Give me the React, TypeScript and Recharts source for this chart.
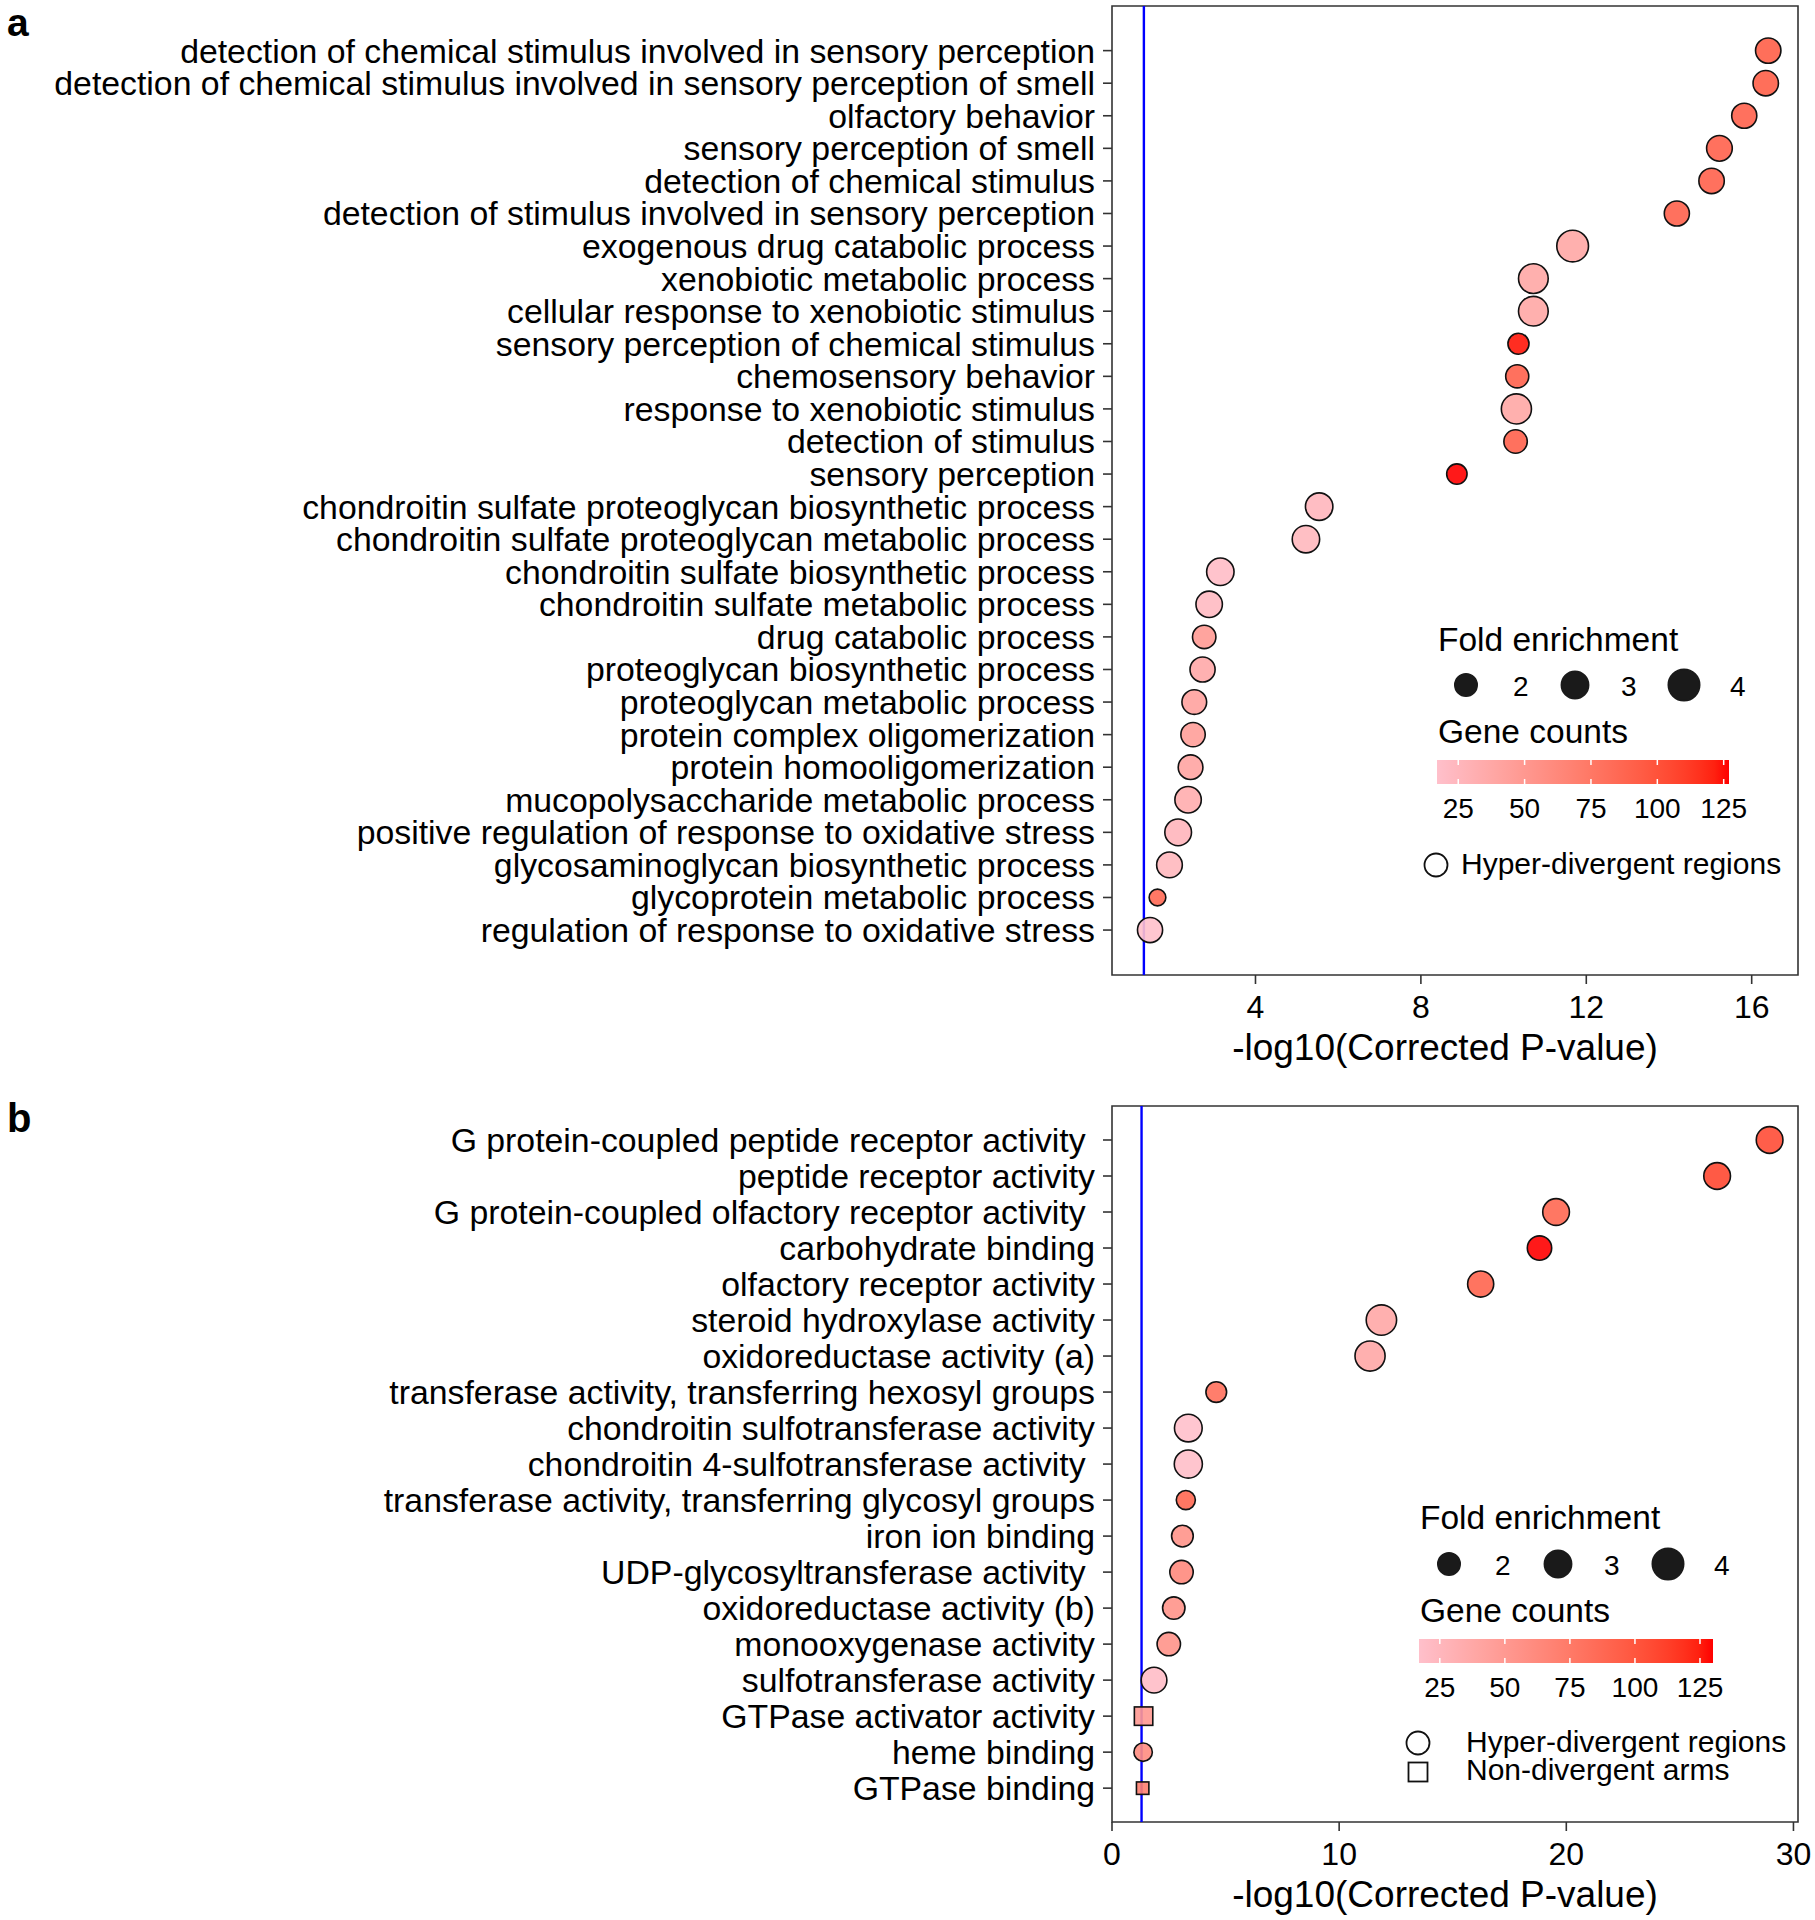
import React from 'react'
import {
  ScatterChart,
  Scatter,
  XAxis,
  YAxis,
  ZAxis,
  ReferenceLine,
  ReferenceArea,
} from 'recharts'

const FONT = '"Liberation Sans", Arial, Helvetica, sans-serif'

// ---- panel a: biological process terms ----
const termsA = [
  'detection of chemical stimulus involved in sensory perception',
  'detection of chemical stimulus involved in sensory perception of smell',
  'olfactory behavior',
  'sensory perception of smell',
  'detection of chemical stimulus',
  'detection of stimulus involved in sensory perception',
  'exogenous drug catabolic process',
  'xenobiotic metabolic process',
  'cellular response to xenobiotic stimulus',
  'sensory perception of chemical stimulus',
  'chemosensory behavior',
  'response to xenobiotic stimulus',
  'detection of stimulus',
  'sensory perception',
  'chondroitin sulfate proteoglycan biosynthetic process',
  'chondroitin sulfate proteoglycan metabolic process',
  'chondroitin sulfate biosynthetic process',
  'chondroitin sulfate metabolic process',
  'drug catabolic process',
  'proteoglycan biosynthetic process',
  'proteoglycan metabolic process',
  'protein complex oligomerization',
  'protein homooligomerization',
  'mucopolysaccharide metabolic process',
  'positive regulation of response to oxidative stress',
  'glycosaminoglycan biosynthetic process',
  'glycoprotein metabolic process',
  'regulation of response to oxidative stress',
]
const pvalA = [
  16.4, 16.34, 15.82, 15.22, 15.03, 14.19, 11.67, 10.72, 10.72, 10.36, 10.33, 10.31, 10.29, 8.87,
  5.54, 5.22, 3.15, 2.88, 2.76, 2.72, 2.52, 2.49, 2.43, 2.37, 2.13, 1.92, 1.63, 1.45,
]
const foldA = [
  2.59, 2.59, 2.53, 2.65, 2.59, 2.53, 4.08, 3.57, 3.57, 1.76, 2.13, 3.67, 2.19, 1.64,
  3.03, 3.03, 3.03, 2.81, 2.19, 2.53, 2.45, 2.38, 2.45, 2.81, 2.87, 2.65, 1.08, 2.53,
]
const genesA = [
  92, 92, 90, 90, 90, 90, 38, 38, 38, 124, 90, 38, 90, 127,
  25, 24, 20, 22, 48, 36, 42, 45, 40, 33, 26, 24, 85, 17,
]
const xTicksA = [4, 8, 12, 16]

// ---- panel b: molecular function terms ----
const termsB = [
  'G protein-coupled peptide receptor activity ',
  'peptide receptor activity',
  'G protein-coupled olfactory receptor activity ',
  'carbohydrate binding',
  'olfactory receptor activity',
  'steroid hydroxylase activity',
  'oxidoreductase activity (a)',
  'transferase activity, transferring hexosyl groups',
  'chondroitin sulfotransferase activity',
  'chondroitin 4-sulfotransferase activity ',
  'transferase activity, transferring glycosyl groups',
  'iron ion binding',
  'UDP-glycosyltransferase activity ',
  'oxidoreductase activity (b)',
  'monooxygenase activity',
  'sulfotransferase activity',
  'GTPase activator activity',
  'heme binding',
  'GTPase binding',
]
const pvalB = [
  28.95, 26.64, 19.55, 18.82, 16.23, 11.86, 11.36, 4.59, 3.36, 3.36, 3.25, 3.1, 3.06, 2.72, 2.5,
  1.85, 1.39, 1.37, 1.35,
]
const foldB = [
  2.87, 2.87, 2.87, 2.38, 2.74, 3.74, 3.67, 1.7, 3.1, 3.19, 1.43, 1.87, 2.19, 2.0, 2.19, 2.65,
  1.71, 1.33, 0.74,
]
const genesB = [105, 108, 88, 130, 90, 38, 38, 82, 17, 18, 88, 55, 62, 55, 55, 20, 50, 60, 70]
const regionB = [
  'hyper', 'hyper', 'hyper', 'hyper', 'hyper', 'hyper', 'hyper', 'hyper', 'hyper', 'hyper',
  'hyper', 'hyper', 'hyper', 'hyper', 'hyper', 'hyper', 'arm', 'hyper', 'arm',
]
const xTicksB = [0, 10, 20, 30]

const foldLegend = [2, 3, 4]
const geneLegend = [25, 50, 75, 100, 125]
const CUTOFF = -Math.log10(0.05)

type Row = { row: number; term: string; p: number; fold: number; genes: number; region: string }

const rowsA: Row[] = termsA.map((term, i) => ({
  row: i + 1, term, p: pvalA[i], fold: foldA[i], genes: genesA[i], region: 'hyper',
}))
const rowsB: Row[] = termsB.map((term, i) => ({
  row: i + 1, term, p: pvalB[i], fold: foldB[i], genes: genesB[i], region: regionB[i],
}))

// point area grows linearly with fold enrichment (like scale_size)
const FOLD_DOMAIN: [number, number] = [0, 5]
const areaFor = (fe: number) => (Math.PI / 4) * (502 + 242 * (fe - 2))
const AREA_RANGE: [number, number] = [areaFor(FOLD_DOMAIN[0]), areaFor(FOLD_DOMAIN[1])]

// pink -> red, interpolated in Lab
const WHITE = [0.95047, 1, 1.08883]
const toLin = (c: number) => {
  const v = c / 255
  return v <= 0.04045 ? v / 12.92 : Math.pow((v + 0.055) / 1.055, 2.4)
}
const fromLin = (v: number) => {
  const s = v <= 0.0031308 ? 12.92 * v : 1.055 * Math.pow(v, 1 / 2.4) - 0.055
  return Math.round(Math.min(1, Math.max(0, s)) * 255)
}
const fLab = (t: number) => (t > 216 / 24389 ? Math.cbrt(t) : ((24389 / 27) * t + 16) / 116)
const fLabInv = (t: number) => (t * t * t > 216 / 24389 ? t * t * t : (116 * t - 16) / (24389 / 27))
function rgbToLab([r, g, b]: number[]) {
  const R = toLin(r), G = toLin(g), B = toLin(b)
  const fx = fLab((0.4124 * R + 0.3576 * G + 0.1805 * B) / WHITE[0])
  const fy = fLab((0.2126 * R + 0.7152 * G + 0.0722 * B) / WHITE[1])
  const fz = fLab((0.0193 * R + 0.1192 * G + 0.9505 * B) / WHITE[2])
  return [116 * fy - 16, 500 * (fx - fy), 200 * (fy - fz)]
}
function labToCss([L, a, b]: number[]) {
  const fy = (L + 16) / 116
  const X = fLabInv(fy + a / 500) * WHITE[0]
  const Y = fLabInv(fy) * WHITE[1]
  const Z = fLabInv(fy - b / 200) * WHITE[2]
  const R = 3.2406 * X - 1.5372 * Y - 0.4986 * Z
  const G = -0.9689 * X + 1.8758 * Y + 0.0415 * Z
  const B = 0.0557 * X - 0.204 * Y + 1.057 * Z
  return `rgb(${fromLin(R)},${fromLin(G)},${fromLin(B)})`
}
const LOW = rgbToLab([255, 192, 203])
const HIGH = rgbToLab([255, 0, 0])
function geneColour(v: number, [lo, hi]: number[]) {
  const t = Math.min(1, Math.max(0, (v - lo) / (hi - lo)))
  return labToCss(LOW.map((c, i) => c + (HIGH[i] - c) * t))
}
const extent = (vals: number[]) => [Math.min(...vals), Math.max(...vals)]

function TermTick(props: any) {
  const { x, y, payload, terms } = props
  return (
    <text
      x={x}
      y={y}
      dy="0.355em"
      textAnchor="end"
      fontSize={33.8}
      fontFamily={FONT}
      fill="#000"
      style={{ whiteSpace: 'pre' }}
    >
      {terms[payload.value - 1]}
    </text>
  )
}

function Panel({
  rows, top, height, marginTop, axisHeight, titleOffset, xDomain, xTicks, yDomain,
}: {
  rows: Row[]; top: number; height: number; marginTop: number; axisHeight: number
  titleOffset: number; xDomain: [number, number]; xTicks: number[]; yDomain: [number, number]
}) {
  const geneDomain = extent(rows.map((r) => r.genes))
  const terms = rows.map((r) => r.term)
  const circles = rows.filter((r) => r.region === 'hyper')
  const squares = rows.filter((r) => r.region === 'arm')

  const mark = (kind: string) => (props: any) => {
    const { cx, cy, payload } = props
    const size = props.size ?? Math.PI * (props.width / 2) ** 2
    const fill = geneColour(payload.genes, geneDomain)
    if (kind === 'square') {
      const s = Math.sqrt(size)
      return (
        <rect x={cx - s / 2} y={cy - s / 2} width={s} height={s} fill={fill} fillOpacity={0.9} stroke="#111" strokeWidth={1.6} />
      )
    }
    return <circle cx={cx} cy={cy} r={Math.sqrt(size / Math.PI)} fill={fill} fillOpacity={0.9} stroke="#111" strokeWidth={1.6} />
  }

  return (
    <div style={{ position: 'absolute', left: 0, top }}>
      <ScatterChart width={1815} height={height} margin={{ top: marginTop, right: 17, bottom: 0, left: 12 }}>
        <XAxis
          type="number"
          dataKey="p"
          domain={xDomain}
          ticks={xTicks}
          allowDataOverflow
          height={axisHeight}
          axisLine={false}
          tickSize={9}
          tickMargin={11}
          tickLine={{ stroke: '#333', strokeWidth: 1.6 }}
          tick={{ fill: '#000', fontSize: 32, fontFamily: FONT }}
          label={{
            value: '-log10(Corrected P-value)',
            position: 'insideBottom',
            offset: titleOffset,
            dx: -10,
            fontSize: 37,
            fill: '#000',
            fontFamily: FONT,
          }}
        />
        <YAxis
          type="number"
          dataKey="row"
          domain={yDomain}
          reversed
          ticks={rows.map((r) => r.row)}
          interval={0}
          allowDataOverflow
          width={1100}
          axisLine={false}
          tickSize={9}
          tickMargin={8}
          tickLine={{ stroke: '#333', strokeWidth: 1.6 }}
          tick={(p: any) => <TermTick {...p} terms={terms} />}
        />
        <ZAxis type="number" dataKey="fold" domain={FOLD_DOMAIN} range={AREA_RANGE} />
        <ReferenceArea
          x1={xDomain[0]}
          x2={xDomain[1]}
          y1={yDomain[0]}
          y2={yDomain[1]}
          ifOverflow="visible"
          fill="none"
          stroke="#333"
          strokeWidth={1.6}
        />
        <ReferenceLine x={CUTOFF} stroke="#0000FF" strokeWidth={2.4} />
        <Scatter data={circles} shape={mark('circle')} isAnimationActive={false} />
        {squares.length > 0 && <Scatter data={squares} shape={mark('square')} isAnimationActive={false} />}
      </ScatterChart>
    </div>
  )
}

type LegendLayout = {
  id: string; left: number; foldTitle: number; sizeCy: number; sizeCx: number[]; sizeLabelX: number[]
  sizeLabel: number; geneTitle: number; bar: { x: number; y: number; w: number; h: number }; barLabel: number
  keys: { shape: string; label: string; cx: number; cy: number; tx: number; base: number }[]
}

function PanelLegend({ rows, lay }: { rows: Row[]; lay: LegendLayout }) {
  const [lo, hi] = extent(rows.map((r) => r.genes))
  const stops = Array.from({ length: 21 }, (_, i) => i / 20)
  const gx = (v: number) => lay.bar.x + ((v - lo) / (hi - lo)) * lay.bar.w
  return (
    <g fontFamily={FONT} fill="#000">
      <defs>
        <linearGradient id={lay.id} x1="0" y1="0" x2="1" y2="0">
          {stops.map((t) => (
            <stop key={t} offset={t} stopColor={geneColour(lo + t * (hi - lo), [lo, hi])} />
          ))}
        </linearGradient>
      </defs>
      <text x={lay.left} y={lay.foldTitle} fontSize={33.5}>Fold enrichment</text>
      {foldLegend.map((fe, i) => (
        <g key={fe}>
          <circle cx={lay.sizeCx[i]} cy={lay.sizeCy} r={Math.sqrt(areaFor(fe) / Math.PI)} fill="#1a1a1a" stroke="#1a1a1a" strokeWidth={1.6} />
          <text x={lay.sizeLabelX[i]} y={lay.sizeLabel} fontSize={28}>{fe}</text>
        </g>
      ))}
      <text x={lay.left} y={lay.geneTitle} fontSize={33.5}>Gene counts</text>
      <rect x={lay.bar.x} y={lay.bar.y} width={lay.bar.w} height={lay.bar.h} fill={`url(#${lay.id})`} />
      {geneLegend.map((v) => (
        <g key={v}>
          <line x1={gx(v)} x2={gx(v)} y1={lay.bar.y} y2={lay.bar.y + 5} stroke="#fff" strokeWidth={1.5} />
          <line x1={gx(v)} x2={gx(v)} y1={lay.bar.y + lay.bar.h - 5} y2={lay.bar.y + lay.bar.h} stroke="#fff" strokeWidth={1.5} />
          <text x={gx(v)} y={lay.barLabel} fontSize={28} textAnchor="middle">{v}</text>
        </g>
      ))}
      {lay.keys.map((k) => (
        <g key={k.label}>
          {k.shape === 'square' ? (
            <rect x={k.cx - 9.5} y={k.cy - 9.5} width={19} height={19} fill="none" stroke="#111" strokeWidth={1.8} />
          ) : (
            <circle cx={k.cx} cy={k.cy} r={11.5} fill="none" stroke="#111" strokeWidth={1.8} />
          )}
          <text x={k.tx} y={k.base} fontSize={30}>{k.label}</text>
        </g>
      ))}
    </g>
  )
}

const legendA: LegendLayout = {
  id: 'geneGradA', left: 1438, foldTitle: 651, sizeCy: 685, sizeCx: [1466, 1575, 1684],
  sizeLabelX: [1513, 1621, 1730], sizeLabel: 696, geneTitle: 743,
  bar: { x: 1437, y: 760, w: 292, h: 24 }, barLabel: 818,
  keys: [{ shape: 'circle', label: 'Hyper-divergent regions', cx: 1436, cy: 865, tx: 1461, base: 874 }],
}
const legendB: LegendLayout = {
  id: 'geneGradB', left: 1420, foldTitle: 1529, sizeCy: 1564, sizeCx: [1449, 1558, 1668],
  sizeLabelX: [1495, 1604, 1714], sizeLabel: 1575, geneTitle: 1622,
  bar: { x: 1419, y: 1639, w: 294, h: 24 }, barLabel: 1697,
  keys: [
    { shape: 'circle', label: 'Hyper-divergent regions', cx: 1418, cy: 1743, tx: 1466, base: 1752 },
    { shape: 'square', label: 'Non-divergent arms', cx: 1418, cy: 1772, tx: 1466, base: 1780 },
  ],
}

export default function App() {
  return (
    <div style={{ position: 'absolute', left: 0, top: 0, width: 1815, height: 1920, background: '#fff', fontFamily: FONT }}>
      <Panel
        rows={rowsA}
        top={0}
        height={1090}
        marginTop={6}
        axisHeight={115}
        titleOffset={30}
        xDomain={[0.53, 17.12]}
        xTicks={xTicksA}
        yDomain={[-0.37, 29.38]}
      />
      <Panel
        rows={rowsB}
        top={1090}
        height={830}
        marginTop={16}
        axisHeight={98}
        titleOffset={13}
        xDomain={[0, 30.2]}
        xTicks={xTicksB}
        yDomain={[0.056, 19.94]}
      />
      <svg width={1815} height={1920} style={{ position: 'absolute', left: 0, top: 0, pointerEvents: 'none' }}>
        <text x={7} y={36} fontSize={39} fontWeight="bold" fontFamily={FONT}>a</text>
        <text x={7} y={1132} fontSize={40} fontWeight="bold" fontFamily={FONT}>b</text>
        <PanelLegend rows={rowsA} lay={legendA} />
        <PanelLegend rows={rowsB} lay={legendB} />
      </svg>
    </div>
  )
}
